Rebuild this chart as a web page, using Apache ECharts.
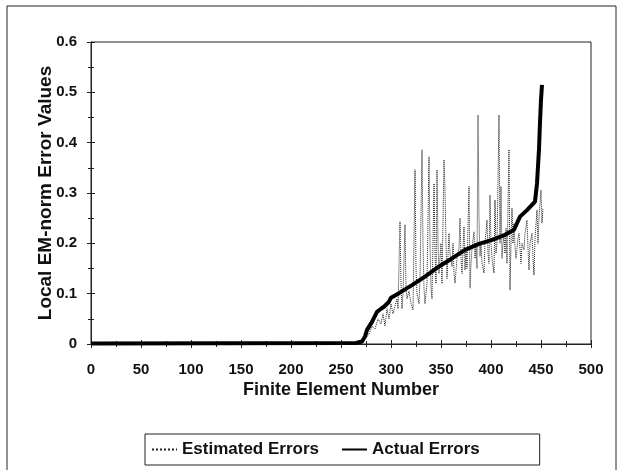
<!DOCTYPE html>
<html>
<head>
<meta charset="utf-8">
<script src="https://cdn.jsdelivr.net/npm/echarts@6/dist/echarts.min.js"></script>
<style>
html,body{margin:0;padding:0;background:#fff;}
#c{width:619px;height:470px;}
</style>
</head>
<body>
<div id="c"></div>
<script>
// Estimated errors: element number / value
var estN = [0,265,270,275,278,281,284,287,290,292,294,296,298,300,302,304,306,307,309,310,311,312,314,315,316,318,320,322,324,325,326,328,329,331,332,333,334,336,338,339,340,341,343,344,345,346,347,348,349,350,351,353,354,355,356,358,359,361,362,363,364,366,368,369,370,371,373,374,375,376,378,379,380,381,383,384,385,386,387,388,389,390,391,393,394,396,397,398,399,400,401,403,404,405,406,408,409,410,411,412,413,414,415,416,418,419,420,421,422,423,424,425,427,428,430,431,433,434,436,437,438,439,441,442,443,444,446,447,448,450,451,452];
var estV = [0,0,0.003,0.012,0.02,0.035,0.03,0.05,0.04,0.06,0.036,0.07,0.05,0.08,0.06,0.058,0.09,0.07,0.243,0.12,0.07,0.1,0.237,0.114,0.09,0.105,0.08,0.068,0.346,0.15,0.1,0.08,0.13,0.386,0.2,0.11,0.08,0.12,0.372,0.2,0.11,0.09,0.319,0.18,0.12,0.346,0.2,0.14,0.141,0.2,0.12,0.366,0.306,0.2,0.13,0.22,0.18,0.154,0.2,0.14,0.121,0.17,0.19,0.25,0.17,0.14,0.233,0.147,0.19,0.15,0.313,0.111,0.16,0.19,0.223,0.17,0.2,0.15,0.455,0.25,0.174,0.2,0.16,0.141,0.2,0.246,0.18,0.16,0.296,0.2,0.17,0.141,0.286,0.18,0.2,0.455,0.2,0.313,0.17,0.2,0.213,0.18,0.23,0.16,0.386,0.107,0.2,0.27,0.2,0.24,0.194,0.17,0.21,0.22,0.16,0.2,0.187,0.22,0.246,0.19,0.147,0.2,0.22,0.17,0.137,0.21,0.266,0.2,0.25,0.306,0.24,0.27];
// Actual errors: element number / value
var actN = [0,265,271,274,276,281,286,290,293,298,300,308,321,334,348,361,374,388,401,414,423,429,436,444,446,448,449,450,451];
var actV = [0.001,0.002,0.005,0.015,0.028,0.044,0.064,0.07,0.074,0.084,0.092,0.101,0.117,0.134,0.154,0.170,0.187,0.199,0.207,0.217,0.227,0.253,0.266,0.283,0.319,0.387,0.44,0.485,0.515];

var xTitle = 'Finite Element Number';
var yTitle = 'Local EM-norm Error Values';
var seriesNames = ['Estimated Errors', 'Actual Errors'];

function pairs(n, v){ return n.map(function(x,i){ return [x, v[i]]; }); }

var FONT = '"Liberation Sans", Arial, sans-serif';
var chart = echarts.init(document.getElementById('c'), null, {renderer:'canvas'});
var tickLbl = {fontFamily: FONT, fontWeight: 'bold', fontSize: 15, color: '#111'};

chart.setOption({
  animation: false,
  backgroundColor: '#fff',
  graphic: [
    {type:'rect', shape:{x:7, y:6, width:609, height:480}, style:{fill:'none', stroke:'#222', lineWidth:1}, z:-1}
  ],
  grid: {left: 91, right: 28, top: 42, bottom: 126, show: true, borderColor: '#222', borderWidth: 1, backgroundColor: 'transparent'},
  legend: {
    data: seriesNames,
    left: 145, top: 434,
    itemWidth: 25, itemHeight: 12, itemGap: 22,
    borderColor: '#222', borderWidth: 1,
    padding: [7, 60, 7, 6],
    itemStyle: {color: 'rgba(0,0,0,0)', borderWidth: 0, opacity: 0},
    textStyle: {fontFamily: FONT, fontWeight: 'bold', fontSize: 17, color: '#111'}
  },
  xAxis: [
    {type:'value', min:0, max:500, interval:50,
     name: xTitle, nameLocation:'middle', nameGap: 37, nameMoveOverlap: false,
     nameTextStyle: {fontFamily: FONT, fontWeight:'bold', fontSize: 18, color:'#111'},
     axisLine:{show:true, onZero:false, lineStyle:{color:'#222', width:1}},
     axisTick:{show:true, length:4, lineStyle:{color:'#222'}},
     minorTick:{show:true, splitNumber:2, length:3, lineStyle:{color:'#222'}},
     splitLine:{show:false},
     axisLabel: Object.assign({margin: 18}, tickLbl)},
    {type:'value', min:0, max:500, interval:50, position:'bottom',
     axisLine:{show:false}, axisLabel:{show:false}, splitLine:{show:false},
     axisTick:{show:true, inside:true, length:4, lineStyle:{color:'#222'}},
     minorTick:{show:true, splitNumber:2, length:3, lineStyle:{color:'#222'}}}
  ],
  yAxis: [
    {type:'value', min:0, max:0.6, interval:0.1,
     name: yTitle, nameLocation:'middle', nameGap: 36, nameMoveOverlap: false,
     nameTextStyle: {fontFamily: FONT, fontWeight:'bold', fontSize: 19, color:'#111'},
     axisLine:{show:true, onZero:false, lineStyle:{color:'#222', width:1}},
     axisTick:{show:true, length:4, lineStyle:{color:'#222'}},
     minorTick:{show:true, splitNumber:2, length:3, lineStyle:{color:'#222'}},
     splitLine:{show:false},
     axisLabel: Object.assign({margin: 14, formatter: function(v){ return v === 0 ? '0' : v.toFixed(1); }}, tickLbl)},
    {type:'value', min:0, max:0.6, interval:0.1, position:'left',
     axisLine:{show:false}, axisLabel:{show:false}, splitLine:{show:false},
     axisTick:{show:true, inside:true, length:4, lineStyle:{color:'#222'}},
     minorTick:{show:true, splitNumber:2, length:3, lineStyle:{color:'#222'}}}
  ],
  series: [
    {name: seriesNames[0], type:'line', data: pairs(estN, estV), showSymbol:false, symbol:'none',
     lineStyle:{color:'#222', width:1, type:'dotted'}, itemStyle:{color:'#222'}, z:2},
    {name: seriesNames[1], type:'line', data: pairs(actN, actV), showSymbol:false, symbol:'none',
     lineStyle:{color:'#000', width:4}, itemStyle:{color:'#000'}, z:3}
  ]
});
</script>
</body>
</html>
